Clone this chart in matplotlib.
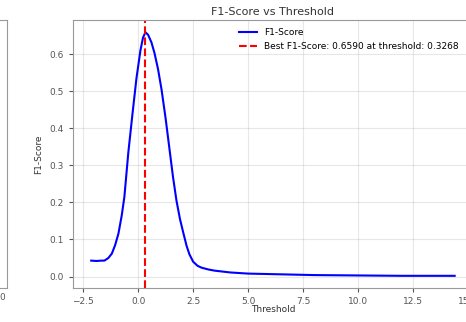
import matplotlib
matplotlib.use("Agg")
import matplotlib.pyplot as plt

# values
thresholds = [-2.14, -1.9, -1.68, -1.54, -1.36, -1.2, -1.05, -0.9, -0.75, -0.63, -0.45, -0.25, -0.08, 0.10, 0.22, 0.33,
              0.45, 0.60, 0.74, 0.90, 1.06, 1.25, 1.42, 1.58, 1.74, 1.90, 2.06, 2.20, 2.33, 2.50, 2.70,
              2.88, 3.2, 3.47, 4.2, 5.0, 6.5, 8.0, 10.0, 12.0, 14.4]
f1_scores = [0.043, 0.042, 0.043, 0.043, 0.050, 0.062, 0.085, 0.116, 0.165, 0.215, 0.335, 0.445, 0.535, 0.610, 0.645, 0.659,
             0.652, 0.632, 0.603, 0.560, 0.505, 0.425, 0.345, 0.270, 0.205, 0.155, 0.116, 0.083, 0.060, 0.040, 0.029,
             0.024, 0.019, 0.016, 0.011, 0.008, 0.006, 0.004, 0.003, 0.002, 0.002]
best_f1 = 0.6590
best_thr = 0.3268

fig = plt.figure(figsize=(4.66, 3.22), dpi=100)

# neighbouring subplot, only its right edge shows
ax0 = fig.add_axes([-0.6, 0.1056, 0.615, 0.832])
ax0.set_xlim(0, 1)
ax0.set_xticks([0.985])
ax0.set_xticklabels(["0"])
ax0.set_yticks([])
ax0.tick_params(labelsize=6.5, colors="#555555", length=0)
for s in ax0.spines.values():
    s.set_color("#999999")

ax = fig.add_axes([0.1567, 0.1056, 0.858, 0.832])
ax.plot(thresholds, f1_scores, color="blue", lw=1.5, label="F1-Score")
ax.axvline(best_thr, color="red", ls="--", lw=1.5,
           label=f"Best F1-Score: {best_f1:.4f} at threshold: {best_thr:.4f}")
ax.set_title("F1-Score vs Threshold", fontsize=8, color="#333333", pad=4)
ax.set_xlabel("Threshold", fontsize=6.5, color="#333333")
ax.xaxis.set_label_coords(0.5, -0.065)
ax.set_ylabel("F1-Score", fontsize=6.5, color="#333333", labelpad=5)
ax.set_xticks([-2.5, 0.0, 2.5, 5.0, 7.5, 10.0, 12.5, 15.0])
ax.tick_params(labelsize=6.5, colors="#555555", length=3)
ax.grid(True, alpha=0.3)
for s in ax.spines.values():
    s.set_color("#999999")
ax.legend(loc="upper right", bbox_to_anchor=(0.985, 1.0), fontsize=6.5, frameon=False)

fig.savefig("out.png", dpi=100)
